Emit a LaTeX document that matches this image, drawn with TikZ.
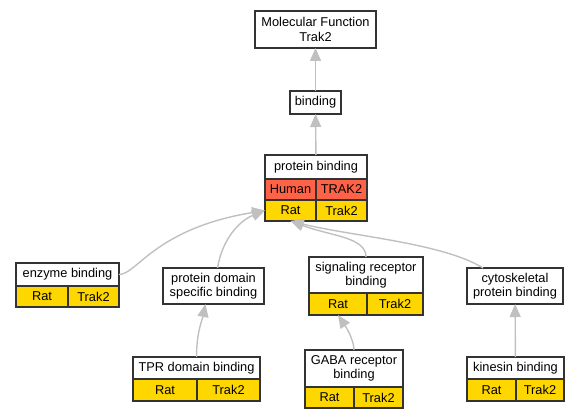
\documentclass[tikz,border=0pt]{standalone}
\usepackage{fontspec}
\setmainfont{Liberation Sans}
\usetikzlibrary{positioning, arrows.meta}
\definecolor{ratgold}{HTML}{FFD700}
\definecolor{humanred}{HTML}{FF6347}
\definecolor{linkgray}{HTML}{C0C0C0}
\definecolor{boxline}{HTML}{333333}

\begin{document}
\begin{tikzpicture}[x=1pt, y=-1pt,
            term/.style={draw=boxline, line width=1.2pt, fill=white, inner sep=0pt, outer sep=0pt,
                anchor=north west, align=center, font=\fontsize{12.8}{14.5}\selectfont},
            rat/.style={term, fill=ratgold},
            human/.style={term, fill=humanred},
            isa/.style={draw=linkgray, line width=1.4pt, -{Triangle[length=13pt, width=11pt]}}
        ]
        \useasboundingbox (0,0) rectangle (579,419);

        % Top terms
        \node[term, minimum width=121, minimum height=37] (mf) at (255,11) {Molecular Function\\Trak2};
        \node[term, minimum width=51, minimum height=23] (bind) at (290,91) {binding};

        % protein binding with human and rat rows
        \node[term, minimum width=102, minimum height=24] (pb) at (265,155) {protein binding};
        \node[human, minimum width=51, minimum height=21] (pbhs) at (pb.south west) {Human};
        \node[human, minimum width=51, minimum height=21] (pbhsgene) at (pbhs.north east) {TRAK2};
        \node[rat, minimum width=51, minimum height=21] (pbrn) at (pbhs.south west) {Rat};
        \node[rat, minimum width=51, minimum height=21] (pbrngene) at (pbrn.north east) {Trak2};

        % Middle row
        \node[term, minimum width=103, minimum height=23] (enz) at (16,263) {enzyme binding};
        \node[rat, minimum width=52, minimum height=21] (enzrn) at (enz.south west) {Rat};
        \node[rat, minimum width=51, minimum height=21] (enzrngene) at (enzrn.north east) {Trak2};

        \node[term, minimum width=101, minimum height=36] (pd) at (163,268) {protein domain\\specific binding};

        \node[term, minimum width=114, minimum height=36] (sig) at (309,257) {signaling receptor\\binding};
        \node[rat, minimum width=58, minimum height=22] (sigrn) at (sig.south west) {Rat};
        \node[rat, minimum width=56, minimum height=22] (sigrngene) at (sigrn.north east) {Trak2};

        \node[term, minimum width=96, minimum height=36] (cyto) at (467,268) {cytoskeletal\\protein binding};

        % Bottom row
        \node[term, minimum width=127, minimum height=22] (tpr) at (133,357) {TPR domain binding};
        \node[rat, minimum width=64, minimum height=22] (tprrn) at (tpr.south west) {Rat};
        \node[rat, minimum width=63, minimum height=22] (tprrngene) at (tprrn.north east) {Trak2};

        \node[term, minimum width=98, minimum height=37] (gaba) at (305,350) {GABA receptor\\binding};
        \node[rat, minimum width=49, minimum height=21] (gabarn) at (gaba.south west) {Rat};
        \node[rat, minimum width=49, minimum height=21] (gabarngene) at (gabarn.north east) {Trak2};

        \node[term, minimum width=97, minimum height=22] (kin) at (467,357) {kinesin binding};
        \node[rat, minimum width=49, minimum height=22] (kinrn) at (kin.south west) {Rat};
        \node[rat, minimum width=48, minimum height=22] (kinrngene) at (kinrn.north east) {Trak2};

        % is-a links
        \draw[isa] (bind) -- (mf);
        \draw[isa] (pb) -- (bind);
        \draw[isa] (enz.east) .. controls +(18,0) and +(-110,18) .. (pbrn.west);
        \draw[isa] ([xshift=4pt]pd.north) .. controls +(5,-30) and +(-25,10) .. (pbrn.west);
        \draw[isa] (sig.north) .. controls +(0,-20) and +(40,15) .. (pbrn.south);
        \draw[isa] ([xshift=16pt]cyto.north west) .. controls +(-40,-25) and +(60,15) .. (pbrn.south);
        \draw[isa] (tpr.north) .. controls +(0,-25) and +(-3,15) .. ([xshift=-8pt]pd.south);
        \draw[isa] (gaba.north) .. controls +(0,-10) and +(8,12) .. (sigrn.south);
        \draw[isa] (kin) -- (cyto);
    \end{tikzpicture}
\end{document}
